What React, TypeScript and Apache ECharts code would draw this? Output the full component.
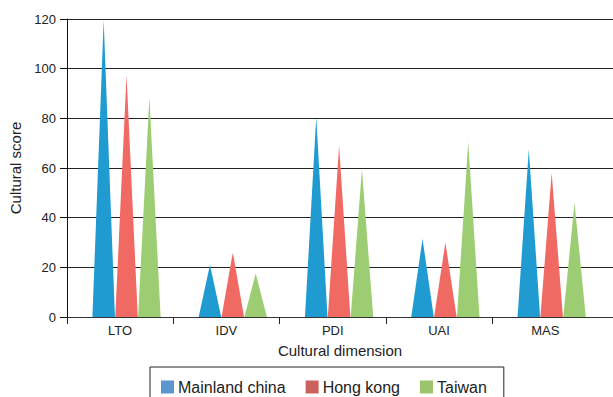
import React, { useEffect, useRef } from "react";
import * as echarts from "echarts";

const categories = ["LTO", "IDV", "PDI", "UAI", "MAS"];
const seriesNames = ["Mainland china", "Hong kong", "Taiwan"];
const mainlandChina = [119.5, 21, 80.5, 31.5, 67.5];
const hongKong = [97.5, 26, 69, 30, 58];
const taiwan = [88.5, 17.5, 59.5, 70.5, 46];
const yTicks = [0, 20, 40, 60, 80, 100, 120];

const seriesColors = ["#1f9bd1", "#f06963", "#9dcd72"];
const legendColors = ["#5b96cf", "#cc625d", "#9bc46d"];
const offsets = [0.345, 0.56, 0.775];
const halfWidth = 0.106;

export default function App() {
  const ref = useRef<HTMLDivElement>(null);
  useEffect(() => {
    if (!ref.current) return;
    const chart = echarts.init(ref.current, undefined, { renderer: "svg" });
    const all = [mainlandChina, hongKong, taiwan];
    const font = "'Liberation Sans', Arial, Helvetica, sans-serif";
    chart.setOption({
      animation: false,
      textStyle: { fontFamily: font },
      grid: { left: 67, right: 0, top: 19, bottom: 80, containLabel: false, outerBoundsMode: "none" },
      legend: {
        top: 367,
        left: 150,
        padding: [12, 17, 18, 11],
        borderColor: "#222",
        borderWidth: 1,
        itemWidth: 13,
        itemHeight: 13,
        itemGap: 20,
        icon: "rect",
        textStyle: { fontSize: 16, color: "#222", padding: [0, 0, 0, -1] },
        data: seriesNames.map((n, i) => ({ name: n, itemStyle: { color: legendColors[i] } })),
      },
      xAxis: {
        type: "value",
        min: 0,
        max: 5.137,
        name: "Cultural dimension",
        nameLocation: "middle",
        nameGap: 26,
        nameTextStyle: { fontSize: 15, color: "#222" },
        axisLine: { show: true, lineStyle: { color: "#333", width: 1 } },
        axisTick: { show: true, length: 7, customValues: [0, 1, 2, 3, 4], lineStyle: { color: "#222" } },
        axisLabel: {
          customValues: categories.map((_, i) => i + 0.5),
          formatter: (v: number) => categories[Math.floor(v)] ?? "",
          fontSize: 13,
          color: "#222",
          margin: 7,
        },
        splitLine: { show: false },
      },
      yAxis: {
        type: "value",
        min: yTicks[0],
        max: yTicks[yTicks.length - 1],
        interval: 20,
        name: "Cultural score",
        nameLocation: "middle",
        nameGap: 40,
        nameTextStyle: { fontSize: 15, color: "#222" },
        axisLine: { show: true, lineStyle: { color: "#111", width: 1 } },
        axisTick: { show: true, length: 7, lineStyle: { color: "#111" } },
        axisLabel: { fontSize: 13, color: "#222", margin: 11 },
        splitLine: { show: true, lineStyle: { color: "#222", width: 1 } },
      },
      series: all.map((vals, si) => ({
        type: "custom",
        name: seriesNames[si],
        color: seriesColors[si],
        encode: { x: 0, y: 1 },
        data: vals.map((v, i) => [i, v]),
        renderItem: (params: any, api: any) => {
          const cat = api.value(0);
          const v = api.value(1);
          const off = offsets[params.seriesIndex];
          const top = api.coord([cat + off, v]);
          const l = api.coord([cat + off - halfWidth, 0]);
          const r = api.coord([cat + off + halfWidth, 0]);
          return {
            type: "polygon",
            shape: { points: [l, top, r] },
            style: { fill: seriesColors[params.seriesIndex] },
          };
        },
      })),
    });
    return () => chart.dispose();
  }, []);
  return (
    <div
      ref={ref}
      style={{ position: "fixed", left: 0, top: 0, width: 613, height: 397, background: "#fff" }}
    />
  );
}
